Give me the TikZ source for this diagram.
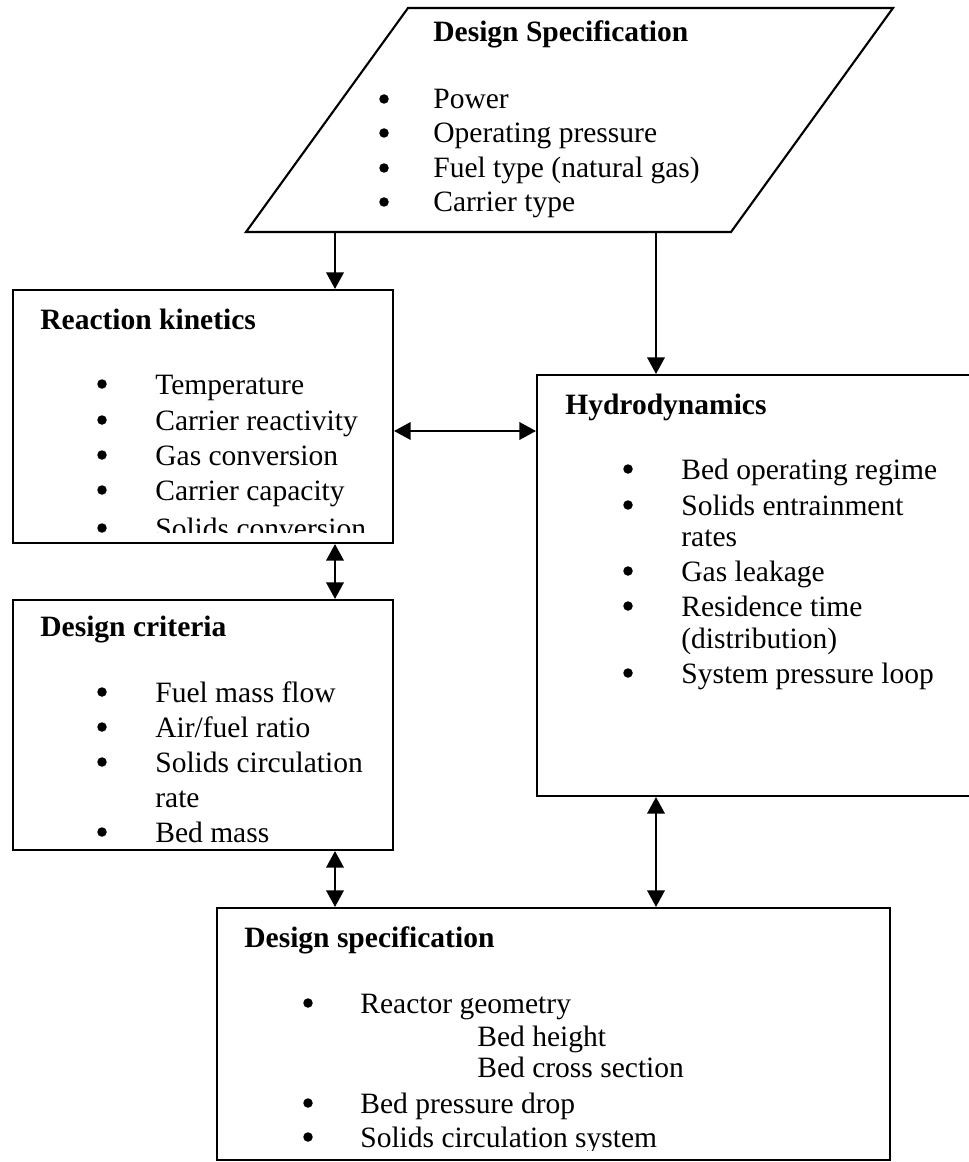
\documentclass[tikz,border=0pt]{standalone}
\usepackage{fontspec}
\setmainfont{Liberation Serif}
\usetikzlibrary{arrows.meta,fit}

\tikzset{
  box/.style={draw, line width=1.2pt, inner sep=0pt},
  head/.style={anchor=base west, inner sep=0pt, font=\fontsize{16.8}{20}\selectfont\bfseries},
  item/.style={anchor=base west, inner sep=0pt},
  bul/.style={circle, fill, inner sep=0pt, minimum size=0.19cm},
  link/.style={line width=1pt, -{Triangle[length=0.33cm,width=0.35cm]}},
  twoway/.style={line width=1pt, {Triangle[length=0.33cm,width=0.35cm]}-{Triangle[length=0.33cm,width=0.35cm]}},
}

\begin{document}
\begin{tikzpicture}[x=0.02cm, y=-0.02cm, font=\fontsize{16.8}{20}\selectfont]
			\useasboundingbox (0,0) rectangle (968,1162);

			% Draw the input parallelogram
			\draw[line width=1.2pt] (246,232) -- (408,8) -- (893,8) -- (731,232) -- cycle;
			\coordinate (in-a) at (335,232);
			\coordinate (in-b) at (656,232);

			\node[head] (in-t) at (433,42) {Design Specification};
			\node[bul]  (in-b1) at (384,99) {};
			\node[item] (in-1)  at (433,109) {Power};
			\node[bul]  (in-b2) at (384,133) {};
			\node[item] (in-2)  at (433,143) {Operating pressure};
			\node[bul]  (in-b3) at (384,168) {};
			\node[item] (in-3)  at (433,178) {Fuel type (natural gas)};
			\node[bul]  (in-b4) at (384,202) {};
			\node[item] (in-4)  at (433,212) {Carrier type};

			% Draw the boxes
			\node[box, fit={(13,290) (393,543)}]  (rk) {};
			\node[box, fit={(537,375) (990,796)}] (hd) {};
			\node[box, fit={(13,600) (393,850)}]  (dc) {};
			\node[box, fit={(217,908) (890,1160)}] (ds) {};

			% Reaction kinetics
			\begin{scope}
				\clip (13,290) rectangle (393,532);
				\node[head] (rk-t) at (40,329) {Reaction kinetics};
				\node[bul]  (rk-b1) at (102,384) {};
				\node[item] (rk-1)  at (155,394) {Temperature};
				\node[bul]  (rk-b2) at (102,420) {};
				\node[item] (rk-2)  at (155,430) {Carrier reactivity};
				\node[bul]  (rk-b3) at (102,455) {};
				\node[item] (rk-3)  at (155,465) {Gas conversion};
				\node[bul]  (rk-b4) at (102,490) {};
				\node[item] (rk-4)  at (155,500) {Carrier capacity};
				\node[bul]  (rk-b5) at (102,528) {};
				\node[item] (rk-5)  at (155,538) {Solids conversion};
			\end{scope}

			% Hydrodynamics
			\node[head] (hd-t) at (565,414) {Hydrodynamics};
			\node[bul]  (hd-b1) at (628,469) {};
			\node[item] (hd-1)  at (681,479) {Bed operating regime};
			\node[bul]  (hd-b2) at (628,505) {};
			\node[item] (hd-2)  at (681,515) {Solids entrainment};
			\node[item] (hd-2b) at (681,546) {rates};
			\node[bul]  (hd-b3) at (628,571) {};
			\node[item] (hd-3)  at (681,581) {Gas leakage};
			\node[bul]  (hd-b4) at (628,606) {};
			\node[item] (hd-4)  at (681,616) {Residence time};
			\node[item] (hd-4b) at (681,648) {(distribution)};
			\node[bul]  (hd-b5) at (628,673) {};
			\node[item] (hd-5)  at (681,683) {System pressure loop};

			% Design criteria
			\node[head] (dc-t) at (40,636) {Design criteria};
			\node[bul]  (dc-b1) at (102,692) {};
			\node[item] (dc-1)  at (155,702) {Fuel mass flow};
			\node[bul]  (dc-b2) at (102,727) {};
			\node[item] (dc-2)  at (155,737) {Air/fuel ratio};
			\node[bul]  (dc-b3) at (102,762) {};
			\node[item] (dc-3)  at (155,772) {Solids circulation};
			\node[item] (dc-3b) at (155,807) {rate};
			\node[bul]  (dc-b4) at (102,832) {};
			\node[item] (dc-4)  at (155,842) {Bed mass};

			% Design specification (output)
			\begin{scope}
				\clip (217,908) rectangle (890,1150);
				\node[head] (ds-t) at (244,947) {Design specification};
				\node[bul]  (ds-b1) at (308,1003) {};
				\node[item] (ds-1)  at (360,1013) {Reactor geometry};
				\node[item] (ds-1a) at (477,1046) {Bed height};
				\node[item] (ds-1b) at (477,1077) {Bed cross section};
				\node[bul]  (ds-b2) at (308,1103) {};
				\node[item] (ds-2)  at (360,1113) {Bed pressure drop};
				\node[bul]  (ds-b3) at (308,1137) {};
				\node[item] (ds-3)  at (360,1147) {Solids circulation system};
			\end{scope}

			% Draw the arrows
			\coordinate (mid) at (465,431);
			\draw[link] (in-a) -- (in-a |- rk.north);
			\draw[link] (in-b) -- (in-b |- hd.north);
			\draw[twoway] (mid -| rk.east) -- (mid -| hd.west);
			\draw[twoway] (in-a |- rk.south) -- (in-a |- dc.north);
			\draw[twoway] (in-a |- dc.south) -- (in-a |- ds.north);
			\draw[twoway] (in-b |- hd.south) -- (in-b |- ds.north);
		\end{tikzpicture}
\end{document}
